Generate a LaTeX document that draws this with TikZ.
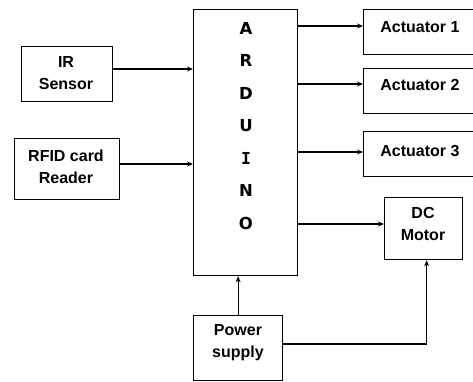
\documentclass[tikz,border=0pt]{standalone}
\usepackage{fontspec}
\setmainfont{Liberation Sans}
\newfontfamily\ardfont{DejaVu Sans}[BoldFont={DejaVu Sans Bold}]
\newfontfamily\ardmono{DejaVu Sans Mono}[BoldFont={DejaVu Sans Mono Bold}]
\usetikzlibrary{arrows.meta,calc}
\begin{document}
\begin{tikzpicture}[x=1pt,y=-1pt,
  box/.style={draw,line width=1.3pt,inner sep=0pt,anchor=north west},
  lbl/.style={font=\fontsize{16}{22}\selectfont\bfseries,align=center,inner sep=0pt},
  ardl/.style={font=\ardfont\fontsize{16.5}{17}\selectfont\bfseries,inner sep=0pt},
  arr/.style={line width=1.3pt,-{Stealth[length=6pt,width=5pt]}},
  ln/.style={line width=1.3pt}]
\clip (0,0) rectangle (473,381);
% boxes
\node[box,minimum width=104pt,minimum height=266pt] (ard) at (193,9) {};
\node[box,minimum width=91pt,minimum height=55pt] (ir) at (21,46) {};
\node[box,minimum width=105pt,minimum height=61pt] (rfid) at (14,138) {};
\node[box,minimum width=130pt,minimum height=45pt] (a1) at (363,9) {};
\node[box,minimum width=130pt,minimum height=45pt] (a2) at (363,68) {};
\node[box,minimum width=130pt,minimum height=45pt] (a3) at (363,131) {};
\node[box,minimum width=78pt,minimum height=62pt] (dc) at (384,197) {};
\node[box,minimum width=89pt,minimum height=65pt] (pw) at (193,315) {};
% texts
\node[lbl] at (66,73.5) {IR\\Sensor};
\node[lbl] at (66,166.5) {RFID card\\Reader};
\node[lbl] at (420,27) {Actuator 1};
\node[lbl] at (420,85) {Actuator 2};
\node[lbl] at (420,151) {Actuator 3};
\node[lbl] at (423,224) {DC\\Motor};
\node[lbl] at (238,342.5) {Power\\supply};
\node[ardl] at (246,28) {A};
\node[ardl] at (246,60.5) {R};
\node[ardl] at (246,93) {D};
\node[ardl] at (246,125.5) {U};
\node[ardl,font=\ardmono\fontsize{16.5}{17}\selectfont\bfseries] at (246,158) {I};
\node[ardl] at (246,190.5) {N};
\node[ardl] at (246,223) {O};
% connectors
\draw[arr] (ir.east |- 0,69) -- (ard.west |- 0,69);
\draw[arr] (rfid.east |- 0,164) -- (ard.west |- 0,164);
\draw[arr] (ard.east |- 0,26) -- (a1.west |- 0,26);
\draw[arr] (ard.east |- 0,84) -- (a2.west |- 0,84);
\draw[arr] (ard.east |- 0,152) -- (a3.west |- 0,152);
\draw[arr] (ard.east |- 0,224) -- (dc.west |- 0,224);
\draw[arr] (pw.north) -- (ard.south -| pw.north);
\draw[arr] (pw.east |- 0,344) -| ($(dc.south)+(3,0)$);
\end{tikzpicture}
\end{document}
